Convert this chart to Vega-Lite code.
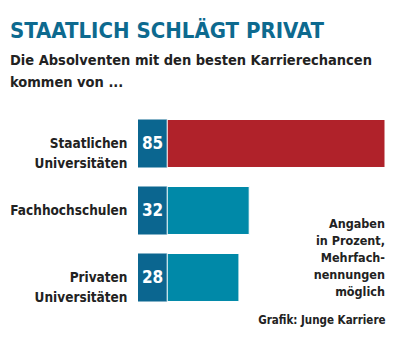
{
  "$schema": "https://vega.github.io/schema/vega-lite/v6.json",
  "width": 247,
  "height": 201,
  "autosize": {"type": "none"},
  "padding": {"left": 138, "top": 110, "right": 15, "bottom": 43},
  "background": "white",
  "config": {
    "view": {"stroke": null},
    "font": "DejaVu Sans Condensed, Roboto, sans-serif"
  },
  "title": {
    "text": "STAATLICH SCHLÄGT PRIVAT",
    "subtitle": ["Die Absolventen mit den besten Karrierechancen", "kommen von ..."],
    "anchor": "start",
    "frame": "group",
    "dx": -128,
    "offset": 20,
    "font": "DejaVu Sans Condensed, Roboto, sans-serif",
    "fontSize": 22,
    "fontWeight": "bold",
    "color": "#0d6a8f",
    "subtitleFont": "DejaVu Sans Condensed, Roboto, sans-serif",
    "subtitleFontSize": 14.5,
    "subtitleFontWeight": "bold",
    "subtitleColor": "#222222",
    "subtitleLineHeight": 22,
    "subtitlePadding": 11
  },
  "data": {
    "values": [
      {"kategorie": "Staatlichen|Universitäten", "wert": 85, "gruppe": "staatlich"},
      {"kategorie": "Fachhochschulen", "wert": 32, "gruppe": "andere"},
      {"kategorie": "Privaten|Universitäten", "wert": 28, "gruppe": "andere"}
    ]
  },
  "layer": [
    {
      "mark": {"type": "bar", "color": "#0b6690"},
      "encoding": {
        "y": {
          "field": "kategorie",
          "type": "nominal",
          "sort": null,
          "scale": {"paddingInner": 0.284, "paddingOuter": 0.142},
          "axis": {
            "title": null,
            "ticks": false,
            "domain": false,
            "labelPadding": 11,
            "labelFont": "DejaVu Sans Condensed, Roboto, sans-serif",
            "labelFontSize": 13.5,
            "labelFontWeight": "bold",
            "labelColor": "#222222",
            "labelLineHeight": 20,
            "labelExpr": "split(datum.label, '|')"
          }
        },
        "x": {
          "datum": -11.4,
          "type": "quantitative",
          "scale": {"domain": [-11.4, 85], "nice": false, "zero": false},
          "axis": {
            "title": "Grafik: Junge Karriere",
            "titleAnchor": "end",
            "titleFont": "DejaVu Sans Condensed, Roboto, sans-serif",
            "titleFontSize": 11.5,
            "titleFontWeight": "bold",
            "titleColor": "#222222",
            "titlePadding": 3,
            "labels": false,
            "ticks": false,
            "domain": false,
            "grid": false
          }
        }
      }
    },
    {
      "mark": {"type": "bar", "stroke": "white", "strokeWidth": 1},
      "encoding": {
        "y": {"field": "kategorie", "type": "nominal", "sort": null},
        "x": {"field": "wert", "type": "quantitative"},
        "color": {
          "field": "gruppe",
          "type": "nominal",
          "scale": {"domain": ["staatlich", "andere"], "range": ["#b0222a", "#0089a8"]},
          "legend": null
        }
      }
    },
    {
      "mark": {
        "type": "text",
        "color": "white",
        "font": "DejaVu Sans Condensed, Roboto, sans-serif",
        "fontSize": 17,
        "fontWeight": "bold",
        "align": "center",
        "baseline": "middle"
      },
      "encoding": {
        "y": {"field": "kategorie", "type": "nominal", "sort": null},
        "x": {"datum": -5.7, "type": "quantitative"},
        "text": {"field": "wert", "type": "quantitative"}
      }
    },
    {
      "data": {"values": [{"notiz": "Angaben|in Prozent,|Mehrfach-|nennungen|möglich", "kategorie": "Privaten|Universitäten"}]},
      "mark": {
        "type": "text",
        "align": "right",
        "baseline": "top",
        "font": "DejaVu Sans Condensed, Roboto, sans-serif",
        "fontSize": 12.5,
        "fontWeight": "bold",
        "color": "#222222",
        "lineHeight": 17,
        "lineBreak": "|",
        "dy": -60
      },
      "encoding": {
        "x": {"datum": 85, "type": "quantitative"},
        "y": {"field": "kategorie", "type": "nominal", "sort": null},
        "text": {"field": "notiz", "type": "nominal"}
      }
    }
  ]
}
